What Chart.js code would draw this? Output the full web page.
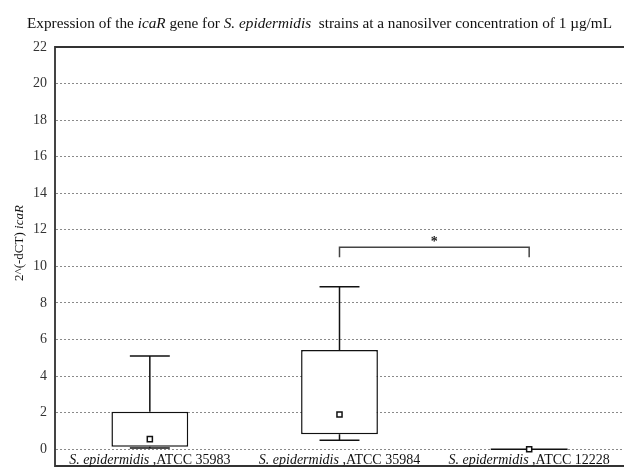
<!DOCTYPE html>
<html>
<head>
<meta charset="utf-8">
<script src="https://cdn.jsdelivr.net/npm/chart.js@4/dist/chart.umd.min.js"></script>
<style>
  html, body { margin: 0; padding: 0; background: #fff; }
  #wrap { width: 624px; height: 468px; position: relative; }
</style>
</head>
<body>
<div id="wrap"><canvas id="c" width="624" height="468"></canvas></div>
<script>
// Strains (categories) and box-plot statistics of 2^(-dCT) for icaR
const species = 'S. epidermidis';
const strains = ['ATCC 35983', 'ATCC 35984', 'ATCC 12228'];
const q1     = [0.13, 0.82, 0];
const q3     = [2.05, 5.42, 0];
const median = [0.55, 1.90, 0];
const lowW   = [0.07, 0.49, 0];
const highW  = [5.10, 8.88, 0];
const yTicks = [0, 2, 4, 6, 8, 10, 12, 14, 16, 18, 20, 22];

// Significance bracket between two strains
const sigFrom = 1, sigTo = 2, sigLevel = 11.05, sigDrop = 10.5, sigMark = '*';

// Title pieces: [text, italic]
const titleParts = [
  ['Expression of the ', false],
  ['icaR', true],
  [' gene for ', false],
  ['S. epidermidis', true],
  ['  strains at a nanosilver concentration of 1 \u00b5g/mL', false]
];
const yTitleParts = [['2^(-dCT) ', false], ['icaR', true]];

const SERIF = '"Liberation Serif", "DejaVu Serif", serif';
const INK = '#111';

function drawParts(ctx, parts, x, y, size, targetWidth) {
  let widths = parts.map(([t, it]) => {
    ctx.font = (it ? 'italic ' : '') + size + 'px ' + SERIF;
    return ctx.measureText(t).width;
  });
  const total = widths.reduce((a, b) => a + b, 0);
  const sx = targetWidth ? targetWidth / total : 1;
  ctx.save();
  ctx.translate(x, y);
  ctx.scale(sx, 1);
  let cx = 0;
  parts.forEach(([t, it], k) => {
    ctx.font = (it ? 'italic ' : '') + size + 'px ' + SERIF;
    ctx.fillText(t, cx, 0);
    cx += widths[k];
  });
  ctx.restore();
  return total * sx;
}

const boxPlot = {
  id: 'boxPlot',
  beforeDatasetsDraw(chart) {
    const { ctx, scales: { x, y } } = chart;
    const meta = chart.getDatasetMeta(0);
    ctx.save();
    ctx.strokeStyle = INK;
    ctx.lineWidth = 1.5;
    strains.forEach((s, i) => {
      const cx = x.getPixelForValue(i);
      const bw = meta.data[i].width;
      const cap = bw * 0.26;
      ctx.beginPath();
      // upper whisker
      ctx.moveTo(cx, y.getPixelForValue(q3[i]));
      ctx.lineTo(cx, y.getPixelForValue(highW[i]));
      ctx.moveTo(cx - cap, y.getPixelForValue(highW[i]));
      ctx.lineTo(cx + cap, y.getPixelForValue(highW[i]));
      // lower whisker
      ctx.moveTo(cx, y.getPixelForValue(q1[i]));
      ctx.lineTo(cx, y.getPixelForValue(lowW[i]));
      ctx.moveTo(cx - cap, y.getPixelForValue(lowW[i]));
      ctx.lineTo(cx + cap, y.getPixelForValue(lowW[i]));
      // collapsed box
      if (q3[i] === q1[i]) {
        ctx.moveTo(cx - bw / 2, y.getPixelForValue(q1[i]));
        ctx.lineTo(cx + bw / 2, y.getPixelForValue(q1[i]));
      }
      ctx.stroke();
    });
    ctx.restore();
  },
  afterDraw(chart) {
    const { ctx, chartArea: a, scales: { x, y } } = chart;
    ctx.save();
    // top and bottom frame
    ctx.strokeStyle = '#333';
    ctx.lineWidth = 2;
    ctx.beginPath();
    ctx.moveTo(a.left, a.top); ctx.lineTo(a.right, a.top);
    ctx.moveTo(a.left, a.bottom); ctx.lineTo(a.right, a.bottom);
    ctx.stroke();

    // significance bracket
    const x0 = x.getPixelForValue(sigFrom), x1 = x.getPixelForValue(sigTo);
    const yl = y.getPixelForValue(sigLevel), yd = y.getPixelForValue(sigDrop);
    ctx.strokeStyle = '#444';
    ctx.lineWidth = 1.5;
    ctx.beginPath();
    ctx.moveTo(x0, yd); ctx.lineTo(x0, yl); ctx.lineTo(x1, yl); ctx.lineTo(x1, yd);
    ctx.stroke();
    ctx.fillStyle = '#222';
    ctx.font = 'bold 14px ' + SERIF;
    ctx.textAlign = 'center';
    ctx.textBaseline = 'alphabetic';
    ctx.fillText(sigMark, (x0 + x1) / 2, yl - 1);

    // title
    ctx.textAlign = 'left';
    ctx.fillStyle = '#111';
    drawParts(ctx, titleParts, 27, 28, 15, 585);

    // category labels
    strains.forEach((s, i) => {
      const parts = [[species, true], [' ,' + s, false]];
      ctx.font = 'italic 14px ' + SERIF;
      const w1 = ctx.measureText(parts[0][0]).width;
      ctx.font = '14px ' + SERIF;
      const w2 = ctx.measureText(parts[1][0]).width;
      const cx = x.getPixelForValue(i);
      drawParts(ctx, parts, cx - (w1 + w2) / 2, 464, 14);
    });

    // y-axis title
    ctx.save();
    ctx.translate(23, 243);
    ctx.rotate(-Math.PI / 2);
    ctx.font = '13px ' + SERIF;
    const w1 = ctx.measureText(yTitleParts[0][0]).width;
    ctx.font = 'italic 13px ' + SERIF;
    const w2 = ctx.measureText(yTitleParts[1][0]).width;
    drawParts(ctx, yTitleParts, -(w1 + w2) / 2, 0, 13);
    ctx.restore();

    ctx.restore();
  }
};

new Chart(document.getElementById('c'), {
  data: {
    labels: strains,
    datasets: [
      {
        type: 'bar',
        data: strains.map((s, i) => [q1[i], q3[i]]),
        backgroundColor: '#fff',
        borderColor: INK,
        borderWidth: 1.5,
        borderSkipped: false,
        categoryPercentage: 1,
        barPercentage: 0.405,
        order: 2
      },
      {
        type: 'line',
        data: median,
        showLine: false,
        pointStyle: 'rect',
        pointRadius: 3.6,
        pointBackgroundColor: '#fff',
        pointBorderColor: INK,
        pointBorderWidth: 1.5,
        order: 1
      }
    ]
  },
  options: {
    responsive: false,
    animation: false,
    events: [],
    layout: { autoPadding: false, padding: { top: 47, bottom: 2, left: 0, right: 0 } },
    plugins: { legend: { display: false }, tooltip: { enabled: false }, title: { display: false } },
    scales: {
      x: { display: false, offset: true },
      y: {
        min: -0.92,
        max: 22,
        afterBuildTicks(scale) { scale.ticks = yTicks.map(v => ({ value: v })); },
        afterFit(scale) {
          scale.width = 55;
          scale.paddingTop = 0;
          scale.paddingBottom = 0;
          scale.paddingLeft = 0;
          scale.paddingRight = 0;
        },
        ticks: {
          font: { family: SERIF, size: 14 },
          color: '#333',
          padding: 8
        },
        grid: {
          drawTicks: false,
          color: ctx => (ctx.tick && ctx.tick.value === 22) ? 'rgba(0,0,0,0)' : '#8a8a8a',
          lineWidth: 1
        },
        border: { display: true, color: '#444', width: 2, dash: [2, 2] }
      }
    }
  },
  plugins: [boxPlot]
});
</script>
</body>
</html>
